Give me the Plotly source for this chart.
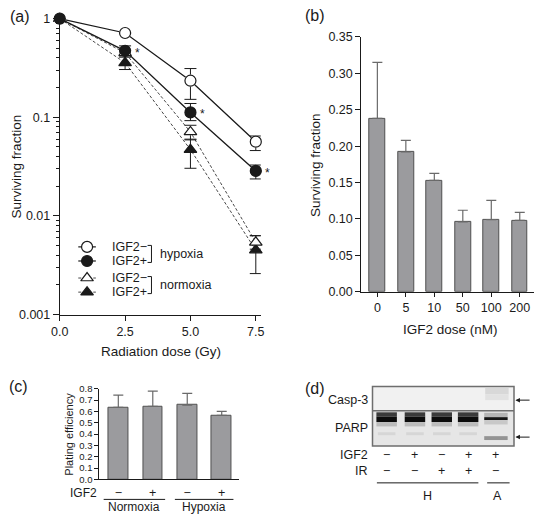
import math
import plotly.graph_objects as go

# ---------------- data ----------------
# (a) clonogenic survival vs radiation dose
dose = [0, 2.5, 5.0, 7.5]
dose_labels = ["0.0", "2.5", "5.0", "7.5"]
hyp_minus = [1, 0.716, 0.235, 0.0566]
hyp_minus_up = [0, 0, 0.077, 0.008]
hyp_minus_dn = [0, 0, 0.083, 0.0106]
hyp_plus = [1, 0.472, 0.112, 0.0286]
hyp_plus_up = [0, 0.058, 0.026, 0.0042]
hyp_plus_dn = [0, 0.05, 0.0195, 0.0049]
nor_minus = [1, 0.45, 0.071, 0.0054]
nor_minus_up = [0, 0.03, 0.012, 0.0009]
nor_minus_dn = [0, 0.03, 0.012, 0.0008]
nor_plus = [1, 0.357, 0.047, 0.0045]
nor_plus_up = [0, 0.05, 0.013, 0.0018]
nor_plus_dn = [0, 0.052, 0.0166, 0.0019]
sig_idx = [1, 2, 3]
log_ticks = [0.001, 0.01, 0.1, 1]
log_tick_labels = ["0.001", "0.01", "0.1", "1"]

# (b) surviving fraction vs IGF2 dose
igf2_dose_labels = ["0", "5", "10", "50", "100", "200"]
sf_means = [0.238, 0.192, 0.153, 0.096, 0.099, 0.098]
sf_err = [0.077, 0.016, 0.0095, 0.016, 0.0266, 0.011]

# (c) plating efficiency
pe_signs = ["\u2212", "+", "\u2212", "+"]
pe_means = [0.635, 0.645, 0.655, 0.565]
pe_err = [0.108, 0.135, 0.105, 0.035]
pe_groups = ["Normoxia", "Hypoxia"]

# (d) western blot lane annotations
blot_igf2 = ["\u2212", "+", "\u2212", "+", "+"]
blot_ir = ["\u2212", "\u2212", "+", "+", "\u2212"]
blot_groups = ["H", "A"]

# ---------------- helpers ----------------
W, H = 538, 521
FONT = "Liberation Sans, Arial, Helvetica, sans-serif"
INK = "#1a1a1a"
BAR_FILL = "#9b9b9e"
BAR_LINE = "#505050"


def px_x(p):
    return p / W


def px_y(p):
    return 1 - p / H


fig = go.Figure()

# ---------------- panel (a) ----------------
series = [
    ("nor_minus", nor_minus, nor_minus_up, nor_minus_dn, "triangle-up-open", "3px,2px", 0.8),
    ("nor_plus", nor_plus, nor_plus_up, nor_plus_dn, "triangle-up", "3px,2px", 0.8),
    ("hyp_minus", hyp_minus, hyp_minus_up, hyp_minus_dn, "circle-open", "solid", 1.3),
    ("hyp_plus", hyp_plus, hyp_plus_up, hyp_plus_dn, "circle", "solid", 1.3),
]
for name, ys, up, dn, sym, dash, lw in series:
    fig.add_trace(go.Scatter(
        x=dose, y=ys, mode="lines+markers", name=name, showlegend=False,
        xaxis="x", yaxis="y", cliponaxis=False,
        line=dict(color=INK, width=lw, dash=dash),
        marker=dict(symbol=sym, size=11, color="white" if "open" in sym else INK,
                    line=dict(color=INK, width=1.2)),
        error_y=dict(type="data", symmetric=False, array=up, arrayminus=dn,
                     color=INK, thickness=1, width=6),
    ))
# re-draw open markers with white fill
for name, ys, up, dn, sym, dash, lw in series:
    if "open" in sym:
        base = sym.replace("-open", "")
        fig.add_trace(go.Scatter(
            x=dose[1:], y=ys[1:], mode="markers", showlegend=False, xaxis="x", yaxis="y",
            cliponaxis=False,
            marker=dict(symbol=base, size=11, color="white", line=dict(color=INK, width=1.2)),
        ))
# hypoxia IGF2+ on top
fig.add_trace(go.Scatter(
    x=dose, y=hyp_plus, mode="markers", showlegend=False, xaxis="x", yaxis="y",
    cliponaxis=False, marker=dict(symbol="circle", size=11, color=INK)))

annotations = []
for i in sig_idx:
    annotations.append(dict(x=dose[i], y=math.log10(hyp_plus[i]), xref="x", yref="y",
                            text="*", showarrow=False, xshift=12, yshift=-2,
                            font=dict(size=12, color=INK, family=FONT)))

# ---------------- panel (b) ----------------
fig.add_trace(go.Bar(
    x=list(range(len(sf_means))), y=sf_means, xaxis="x2", yaxis="y2", width=0.56,
    showlegend=False, marker=dict(color=BAR_FILL, line=dict(color=BAR_LINE, width=1)),
    error_y=dict(type="data", symmetric=False, array=sf_err, arrayminus=[0] * len(sf_err),
                 color="#6a6a6a", thickness=1.2, width=5),
))

# ---------------- panel (c) ----------------
fig.add_trace(go.Bar(
    x=list(range(len(pe_means))), y=pe_means, xaxis="x3", yaxis="y3", width=0.57,
    showlegend=False, marker=dict(color=BAR_FILL, line=dict(color=BAR_LINE, width=1)),
    error_y=dict(type="data", symmetric=False, array=pe_err, arrayminus=[0] * len(pe_err),
                 color="#6a6a6a", thickness=1.2, width=5),
))

# ---------------- overlay (pixel) axis for legend & blot ----------------
legend_rows = [246.5, 261, 278.5, 293]
legend_syms = ["circle-open", "circle", "triangle-up-open", "triangle-up"]
legend_dash = ["solid", "solid", "3px,2px", "3px,2px"]
legend_txt = ["IGF2\u2212", "IGF2+", "IGF2\u2212", "IGF2+"]
for r, s, d in zip(legend_rows, legend_syms, legend_dash):
    fig.add_trace(go.Scatter(
        x=[71, 80, 89], y=[r, r, r], mode="lines", xaxis="x5", yaxis="y5", showlegend=False,
        line=dict(color=INK, width=1.2 if d == "solid" else 0.8, dash=d), hoverinfo="skip"))
    base = s.replace("-open", "")
    fig.add_trace(go.Scatter(
        x=[80], y=[r], mode="markers", xaxis="x5", yaxis="y5", showlegend=False,
        marker=dict(symbol=base, size=11, color="white" if "open" in s else INK,
                    line=dict(color=INK, width=1.2)), hoverinfo="skip"))
for r, t in zip(legend_rows, legend_txt):
    annotations.append(dict(x=104, y=r, xref="x5", yref="y5", text=t, showarrow=False,
                            xanchor="left", yanchor="middle",
                            font=dict(size=12.5, color=INK, family=FONT)))

shapes = []


def line(x0, y0, x1, y1, color=INK, width=1):
    shapes.append(dict(type="line", xref="x5", yref="y5", x0=x0, y0=y0, x1=x1, y1=y1,
                       line=dict(color=color, width=width)))


def rect(x0, y0, x1, y1, fill, lc=None, lw=0, opacity=1):
    shapes.append(dict(type="rect", xref="x5", yref="y5", x0=x0, y0=y0, x1=x1, y1=y1,
                       fillcolor=fill, opacity=opacity, layer="above",
                       line=dict(color=lc if lc else fill, width=lw)))


# brackets
for (ra, rb), label in zip([(legend_rows[0], legend_rows[1]), (legend_rows[2], legend_rows[3])],
                           ["hypoxia", "normoxia"]):
    top, bot = ra - 1.5, rb + 1.5
    line(146, top, 146, bot)
    line(142, top, 146, top)
    line(142, bot, 146, bot)
    annotations.append(dict(x=153, y=(ra + rb) / 2, xref="x5", yref="y5", text=label,
                            showarrow=False, xanchor="left", yanchor="middle",
                            font=dict(size=12.5, color=INK, family=FONT)))

# (c) group lines and labels
line(97, 506, 160, 506)
line(170, 506, 230, 506)
for gx, gtxt in zip([128.5, 200], pe_groups):
    annotations.append(dict(x=gx, y=521, xref="x5", yref="y5", text=gtxt, showarrow=False,
                            yanchor="bottom", yshift=-1,
                            font=dict(size=12, color=INK, family=FONT), borderpad=0))
annotations.append(dict(x=91, y=499, xref="x5", yref="y5", text="IGF2", showarrow=False,
                        xanchor="right", borderpad=0,
                        font=dict(size=12, color=INK, family=FONT)))

# (d) western blot drawing
lanes = [387, 416, 443.5, 470.5, 499]
rect(372.5, 390, 517.5, 415, "#f1f1f1")
rect(372.5, 415, 517.5, 451, "#e6e6e6")
# casp-3 faint signal in lane 5
rect(488, 391.5, 512, 398, "#d8d8d8")
rect(488, 398, 512, 404, "#e2e2e2")
for i, c in enumerate(lanes[:4]):
    rect(c - 10.5, 416.5, c + 10.5, 421, "#3a3a3a")
    rect(c - 10.5, 421, c + 10.5, 426.5, "#0c0c0c")
    rect(c - 10.5, 426.5, c + 10.5, 431, "#bcbcbc")
    rect(c - 9, 437, c + 9, 440, "#d6d6d6")
c = lanes[4]
rect(c - 12, 417, c + 12, 421.5, "#b4b4b4")
rect(c - 12, 421.5, c + 12, 424.5, "#151515")
rect(c - 12, 424.5, c + 12, 429, "#c8c8c8")
rect(c - 12, 441, c + 12, 445, "#949494")
# frame and divider on top
shapes.append(dict(type="rect", xref="x5", yref="y5", x0=372.5, y0=390, x1=517.5, y1=451,
                   line=dict(color="#6e6e6e", width=1.5), layer="above"))
line(372.5, 415, 517.5, 415, "#6e6e6e", 1.5)
# arrows
for yy in [404, 442]:
    annotations.append(dict(x=519, y=yy, ax=535, ay=yy, xref="x5", yref="y5", axref="x5",
                            ayref="y5", text="", showarrow=True, arrowhead=2, arrowsize=0.9,
                            arrowwidth=1, arrowcolor=INK))
# blot labels
for txt, yy in [("Casp-3", 404), ("PARP", 433)]:
    annotations.append(dict(x=370, y=yy, xref="x5", yref="y5", text=txt, showarrow=False,
                            xanchor="right", font=dict(size=12.5, color=INK, family=FONT)))
for txt, yy, signs in [("IGF2", 460.5, blot_igf2), ("IR", 477, blot_ir)]:
    annotations.append(dict(x=370, y=yy, xref="x5", yref="y5", text=txt, showarrow=False,
                            xanchor="right", font=dict(size=12.5, color=INK, family=FONT)))
    for lx, s in zip(lanes, signs):
        annotations.append(dict(x=lx, y=yy, xref="x5", yref="y5", text=s, showarrow=False,
                                font=dict(size=12.5, color=INK, family=FONT)))
line(377, 489, 481, 489)
line(490, 489, 513, 489)
annotations.append(dict(x=429, y=503, xref="x5", yref="y5", text=blot_groups[0],
                        showarrow=False, font=dict(size=12.5, color=INK, family=FONT)))
annotations.append(dict(x=501, y=503, xref="x5", yref="y5", text=blot_groups[1],
                        showarrow=False, font=dict(size=12.5, color=INK, family=FONT)))

# panel labels
for txt, x, y in [("(a)", 11, 10), ("(b)", 314, 9), ("(c)", 10, 390), ("(d)", 314, 392)]:
    annotations.append(dict(x=x, y=y, xref="x5", yref="y5", text=txt, showarrow=False,
                            font=dict(size=16, color=INK, family=FONT)))

# axis titles
annotations += [
    dict(x=156, y=354, xref="x5", yref="y5", text="Radiation dose (Gy)", showarrow=False,
         font=dict(size=13.5, color=INK, family=FONT)),
    dict(x=8, y=164, xref="x5", yref="y5", text="Surviving fraction", showarrow=False,
         textangle=-90, font=dict(size=13.5, color=INK, family=FONT)),
    dict(x=452, y=331, xref="x5", yref="y5", text="IGF2 dose (nM)", showarrow=False,
         font=dict(size=13.5, color=INK, family=FONT)),
    dict(x=314, y=162, xref="x5", yref="y5", text="Surviving fraction", showarrow=False,
         textangle=-90, font=dict(size=13.5, color=INK, family=FONT)),
    dict(x=62, y=439, xref="x5", yref="y5", text="Plating efficiency", showarrow=False,
         textangle=-90, font=dict(size=11, color=INK, family=FONT)),
]

axis_common = dict(showline=True, linecolor=INK, linewidth=1, showgrid=False, zeroline=False,
                   tickcolor=INK, tickwidth=1, tickfont=dict(size=12.5, color=INK, family=FONT))

minor_vals = [m * 10 ** e for e in (-3, -2, -1) for m in range(2, 10)]

fig.update_layout(
    width=W, height=H, margin=dict(l=0, r=0, t=0, b=0),
    paper_bgcolor="white", plot_bgcolor="rgba(0,0,0,0)",
    font=dict(family=FONT, color=INK),
    xaxis=dict(axis_common, domain=[px_x(52), px_x(258)], anchor="y", range=[0, 7.69],
               tickvals=dose, ticktext=dose_labels, ticks="outside", ticklen=5),
    yaxis=dict(axis_common, domain=[px_y(316), px_y(12)], anchor="x", type="log",
               range=[-3, 0], tickvals=log_ticks, ticktext=log_tick_labels,
               ticks="outside", ticklen=6,
               minor=dict(tickvals=minor_vals, ticks="outside", ticklen=3, tickcolor=INK)),
    xaxis2=dict(axis_common, domain=[px_x(361), 1], anchor="y2", range=[-0.565, 5.5],
                tickvals=list(range(len(igf2_dose_labels))), ticktext=igf2_dose_labels,
                ticks="outside", ticklen=4),
    yaxis2=dict(axis_common, domain=[px_y(292.7), px_y(30.7)], anchor="x2", range=[0, 0.35],
                dtick=0.05, tickformat=".2f", ticks="outside", ticklen=5),
    xaxis3=dict(axis_common, domain=[px_x(92.7), px_x(236)], anchor="y3", range=[-0.547, 3.51],
                tickvals=list(range(len(pe_signs))), ticktext=pe_signs,
                ticks="outside", ticklen=2, tickcolor="rgba(0,0,0,0)"),
    yaxis3=dict(axis_common, domain=[px_y(485.5), px_y(392.3)], anchor="x3", range=[0, 0.8],
                dtick=0.1, tickformat=".1f", ticks="outside", ticklen=4,
                tickfont=dict(size=9.5, color=INK, family=FONT)),
    xaxis5=dict(domain=[0, 1], anchor="y5", range=[0, W], visible=False, fixedrange=True),
    yaxis5=dict(domain=[0, 1], anchor="x5", range=[H, 0], visible=False, fixedrange=True),
    shapes=shapes, annotations=annotations, bargap=0,
)

fig.write_html("out.html", config={"displayModeBar": False},
               post_script="document.body.style.margin='0px';document.body.style.overflow='hidden';")
